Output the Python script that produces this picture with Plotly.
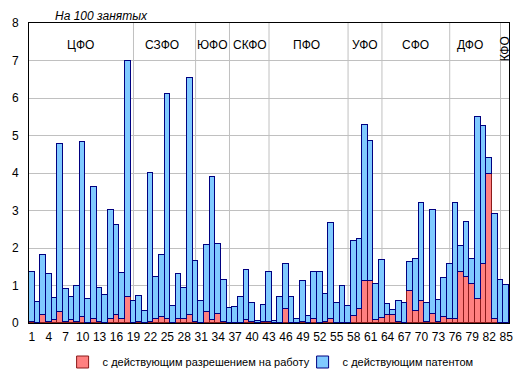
import plotly.graph_objects as go

regions = list(range(1, 86))

# с действующим разрешением на работу (на 100 занятых)
permit = [0.02, 0.00, 0.21, 0.02, 0.07, 0.29, 0.02, 0.07, 0.02, 0.15,
          0.00, 0.10, 0.02, 0.00, 0.10, 0.21, 0.12, 0.69, 0.00, 0.02,
          0.00, 0.02, 0.12, 0.15, 0.10, 0.00, 0.12, 0.12, 0.21, 0.02,
          0.00, 0.29, 0.09, 0.23, 0.02, 0.00, 0.00, 0.00, 0.07, 0.02,
          0.00, 0.04, 0.04, 0.00, 0.00, 0.37, 0.00, 0.00, 0.04, 0.00,
          0.10, 0.00, 0.02, 0.10, 0.00, 0.00, 0.00, 0.19, 0.37, 1.13,
          1.11, 0.07, 0.13, 0.21, 0.21, 0.04, 0.00, 0.85, 0.31, 0.58,
          0.04, 0.23, 0.04, 0.17, 0.12, 0.12, 1.35, 1.22, 1.05, 0.63,
          1.57, 3.97, 0.10, 0.00, 0.00]

# с действующим патентом (на 100 занятых)
patent = [1.34, 0.55, 1.60, 1.28, 0.60, 4.49, 0.88, 0.63, 0.96, 4.68,
          0.63, 3.53, 0.91, 0.74, 2.92, 2.41, 1.21, 6.31, 0.59, 0.69,
          0.31, 3.98, 1.10, 1.66, 6.02, 0.45, 1.18, 0.82, 6.33, 1.64,
          0.59, 1.79, 3.80, 1.87, 1.12, 0.40, 0.43, 0.70, 1.34, 0.51,
          0.05, 0.43, 1.31, 0.05, 0.70, 1.20, 0.70, 0.10, 1.07, 0.18,
          1.25, 1.35, 0.75, 2.56, 0.53, 0.98, 0.45, 2.00, 1.88, 4.16,
          3.75, 0.96, 1.55, 0.29, 0.13, 0.54, 0.53, 0.78, 1.39, 2.63,
          0.49, 2.78, 0.57, 1.02, 1.45, 3.09, 0.70, 1.48, 0.65, 4.87,
          3.69, 0.43, 2.81, 1.14, 1.01]

tick_vals = list(range(1, 86, 3))

districts = ["ЦФО", "СЗФО", "ЮФО", "СКФО", "ПФО", "УФО", "СФО", "ДФО", "КФО"]
district_label_x = [9.6, 24.0, 33.0, 39.7, 49.6, 60.0, 68.9, 78.6, 84.8]
district_starts = [19, 30, 36, 43, 57, 63, 75, 84]

FONT = "Liberation Sans, Arial, sans-serif"

fig = go.Figure()
fig.add_trace(go.Bar(
    x=regions, y=permit, name="с действующим разрешением на работу",
    marker=dict(color="#FF8080", line=dict(color="#8B1A1A", width=1)),
    legend="legend",
))
fig.add_trace(go.Bar(
    x=regions, y=patent, name="с действующим патентом",
    marker=dict(color="#80CAFF", line=dict(color="#000080", width=1)),
    legend="legend2",
))

for xs in district_starts:
    fig.add_shape(type="line", xref="x", yref="paper", x0=xs, x1=xs, y0=0, y1=1,
                  line=dict(color="#C0C0C0", width=1), layer="below")

for name, xl in zip(districts, district_label_x):
    if name == "КФО":
        fig.add_annotation(x=xl, y=7.3, xref="x", yref="y", text=name, showarrow=False,
                           textangle=-90, font=dict(size=12, color="black", family=FONT),
                           xanchor="center", yanchor="middle")
    else:
        fig.add_annotation(x=xl, y=7.42, xref="x", yref="y", text=name, showarrow=False,
                           font=dict(size=12, color="black", family=FONT),
                           xanchor="center", yanchor="middle")

fig.add_annotation(x=0.150, y=1.023, xref="paper", yref="paper",
                   text="<i>На 100 занятых</i>", showarrow=False,
                   font=dict(size=12, color="black", family=FONT),
                   xanchor="center", yanchor="middle")

# page body has an 8px margin, so the figure is sized/offset to compensate
fig.update_layout(
    width=505, height=361,
    margin=dict(l=21, r=4, t=15, b=46, autoexpand=False),
    barmode="stack", bargap=0,
    plot_bgcolor="white", paper_bgcolor="white",
    font=dict(family=FONT, size=11, color="black"),
    legend=dict(orientation="h", x=0.07, xanchor="left", y=-0.13, yanchor="middle",
                font=dict(size=11), itemwidth=30, bgcolor="rgba(0,0,0,0)"),
    legend2=dict(orientation="h", x=0.57, xanchor="left", y=-0.13, yanchor="middle",
                 font=dict(size=11), itemwidth=30, bgcolor="rgba(0,0,0,0)"),
    showlegend=True,
)
fig.update_xaxes(range=[0.5, 85.5], tickmode="array", tickvals=tick_vals,
                 ticktext=[str(v) for v in tick_vals], showgrid=False,
                 showline=True, linecolor="black", linewidth=1, mirror=True,
                 tickfont=dict(size=12), ticks="", ticklabeloverflow="allow",
                 ticklabelstandoff=3)
fig.update_yaxes(range=[0, 8], dtick=1, showgrid=True, gridcolor="#C0C0C0",
                 showline=True, linecolor="black", linewidth=1, mirror=True,
                 tickfont=dict(size=12), ticks="", ticklabelstandoff=7,
                 zeroline=False)

fig.write_html("out.html")
